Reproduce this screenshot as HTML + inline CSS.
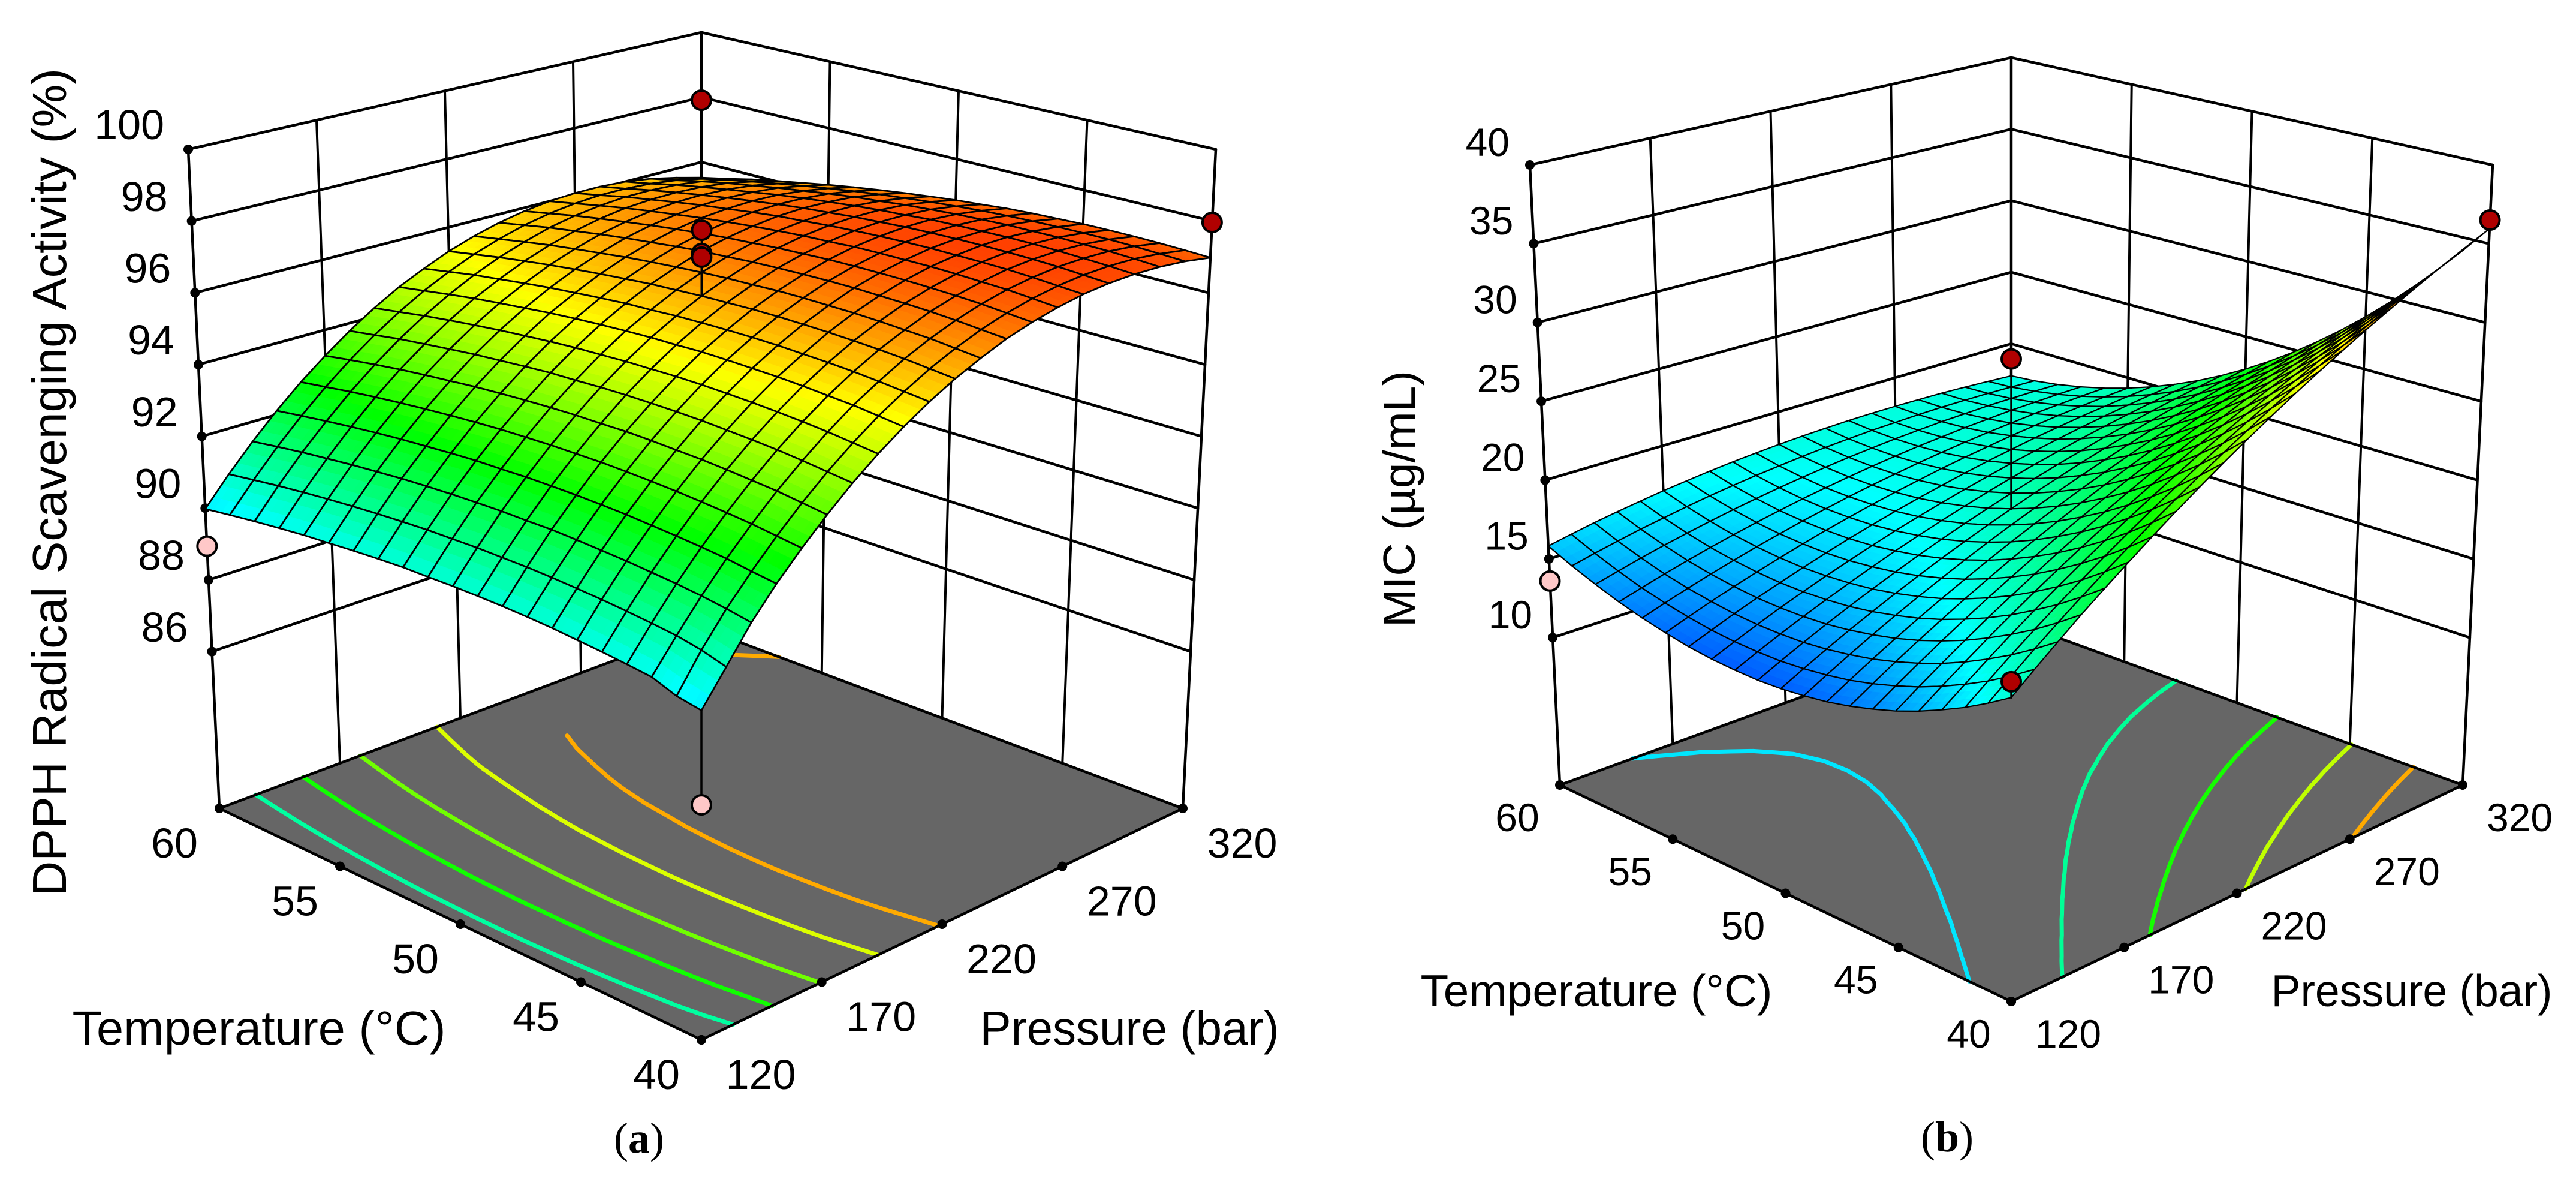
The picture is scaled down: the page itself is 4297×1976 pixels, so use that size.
<!DOCTYPE html>
<html lang="en">
<head>
<meta charset="utf-8">
<title>Response surfaces: DPPH radical scavenging activity and MIC</title>
<style>
html,body{margin:0;padding:0;background:#fff;}
svg{display:block;}
text{font-family:"Liberation Sans",sans-serif;fill:#000;}
.tick{font-size:68px;}
.title{font-size:80px;}
.cap{font-family:"Liberation Serif",serif;font-size:72px;}
</style>
</head>
<body>
<svg id="figure" xmlns="http://www.w3.org/2000/svg" width="4297" height="1976" viewBox="0 0 4297 1976">
  <rect width="4297" height="1976" fill="#fff"/>
  <g id="panelA"></g>
  <g id="panelB"></g>
  <text class="title" text-anchor="middle" textLength="1380" lengthAdjust="spacingAndGlyphs" transform="translate(110,804) rotate(-90)">DPPH Radical Scavenging Activity (%)</text>
  <text class="title" text-anchor="middle" textLength="623" lengthAdjust="spacingAndGlyphs" x="432" y="1742">Temperature (°C)</text>
  <text class="title" text-anchor="middle" textLength="499" lengthAdjust="spacingAndGlyphs" x="1884" y="1742">Pressure (bar)</text>
  <text class="cap" text-anchor="middle" x="1066" y="1922">(<tspan font-weight="bold">a</tspan>)</text>
  <text class="title" style="font-size:75px" text-anchor="middle" textLength="428" lengthAdjust="spacingAndGlyphs" transform="translate(2360,832) rotate(-90)">MIC (µg/mL)</text>
  <text class="title" style="font-size:75px" text-anchor="middle" textLength="587" lengthAdjust="spacingAndGlyphs" x="2663" y="1678">Temperature (°C)</text>
  <text class="title" style="font-size:75px" text-anchor="middle" textLength="469" lengthAdjust="spacingAndGlyphs" x="4023" y="1678">Pressure (bar)</text>
  <text class="cap" text-anchor="middle" x="3248" y="1920">(<tspan font-weight="bold">b</tspan>)</text>
</svg>
<script>
// ---- shared axis values ----
const temperatureTicks = [40, 45, 50, 55, 60];
const pressureTicks = [120, 170, 220, 270, 320];
const temperatureLabels = ["40", "45", "50", "55", "60"];
const pressureLabels = ["120", "170", "220", "270", "320"];

// ---- panel (a): DPPH radical scavenging activity (%) ----
const dpphTicks = [86, 88, 90, 92, 94, 96, 98, 100];
const dpphLabels = ["86", "88", "90", "92", "94", "96", "98", "100"];
const dpphContourLevels = [91.1, 92.4, 93.7, 95, 96.05];
const dpphPointTemperature = [60, 40, 60, 40, 50, 50, 50];
const dpphPointPressure = [320, 320, 120, 120, 220, 220, 220];
const dpphPointValue = [97.91, 97.96, 88.94, 87.58, 98.08, 97.43, 97.33];
// rows: temperature 40..60 in 1 degree steps; columns: pressure 120..320 in 10 bar steps
const dpphSurface = [
[89.97,90.82,91.70,92.45,93.12,93.74,94.32,94.84,95.31,95.73,96.10,96.41,96.69,96.90,97.06,97.18,97.24,97.25,97.21,97.12,96.98],
[90.08,91.00,91.81,92.53,93.20,93.82,94.39,94.91,95.38,95.79,96.16,96.47,96.74,96.95,97.11,97.22,97.28,97.29,97.25,97.15,97.01],
[90.31,91.12,91.90,92.62,93.28,93.90,94.46,94.98,95.45,95.85,96.22,96.53,96.79,97.00,97.16,97.26,97.32,97.32,97.28,97.18,97.03],
[90.38,91.19,91.97,92.68,93.34,93.95,94.52,95.03,95.49,95.90,96.26,96.56,96.83,97.03,97.18,97.29,97.34,97.34,97.29,97.19,97.04],
[90.44,91.25,92.02,92.73,93.39,94.00,94.56,95.07,95.53,95.93,96.29,96.59,96.85,97.05,97.20,97.30,97.35,97.35,97.30,97.19,97.04],
[90.49,91.30,92.07,92.77,93.43,94.04,94.59,95.10,95.56,95.95,96.31,96.61,96.86,97.06,97.21,97.30,97.35,97.35,97.29,97.18,97.03],
[90.54,91.34,92.10,92.81,93.46,94.06,94.62,95.12,95.57,95.97,96.32,96.61,96.87,97.06,97.20,97.30,97.34,97.33,97.28,97.16,97.00],
[90.57,91.37,92.13,92.83,93.48,94.08,94.63,95.13,95.58,95.97,96.32,96.61,96.86,97.05,97.19,97.28,97.32,97.31,97.25,97.13,96.97],
[90.59,91.39,92.15,92.84,93.49,94.09,94.63,95.13,95.58,95.96,96.31,96.60,96.84,97.03,97.17,97.25,97.29,97.28,97.21,97.09,96.93],
[90.60,91.39,92.14,92.84,93.48,94.07,94.62,95.11,95.55,95.94,96.28,96.56,96.81,96.99,97.12,97.21,97.24,97.22,97.16,97.03,96.86],
[90.60,91.39,92.14,92.83,93.47,94.06,94.60,95.09,95.53,95.91,96.25,96.53,96.77,96.95,97.08,97.16,97.19,97.17,97.10,96.97,96.80],
[90.58,91.37,92.12,92.80,93.44,94.03,94.56,95.05,95.49,95.86,96.20,96.48,96.71,96.89,97.02,97.09,97.12,97.10,97.02,96.89,96.72],
[90.57,91.35,92.09,92.78,93.41,93.99,94.53,95.01,95.44,95.82,96.15,96.42,96.66,96.83,96.95,97.03,97.05,97.02,96.95,96.81,96.63],
[90.53,91.31,92.05,92.73,93.36,93.94,94.47,94.95,95.38,95.75,96.08,96.35,96.58,96.75,96.87,96.94,96.96,96.93,96.85,96.71,96.53],
[90.48,91.26,92.00,92.67,93.30,93.88,94.40,94.88,95.31,95.67,96.00,96.27,96.49,96.66,96.78,96.84,96.86,96.83,96.74,96.60,96.42],
[90.42,91.20,91.93,92.61,93.23,93.80,94.33,94.80,95.22,95.59,95.91,96.17,96.40,96.56,96.67,96.74,96.75,96.71,96.63,96.48,96.30],
[90.36,91.13,91.86,92.53,93.15,93.72,94.24,94.71,95.13,95.49,95.81,96.07,96.29,96.45,96.56,96.62,96.63,96.59,96.50,96.35,96.16],
[90.28,91.05,91.77,92.44,93.06,93.63,94.14,94.61,95.03,95.38,95.70,95.96,96.17,96.33,96.44,96.49,96.50,96.46,96.37,96.21,96.02],
[90.19,90.96,91.68,92.34,92.96,93.52,94.04,94.50,94.91,95.27,95.58,95.83,96.05,96.20,96.30,96.36,96.36,96.32,96.22,96.06,95.87],
[90.09,90.85,91.57,92.23,92.84,93.40,93.91,94.37,94.78,95.13,95.44,95.69,95.90,96.05,96.15,96.20,96.20,96.15,96.05,95.89,95.69],
[89.98,90.74,91.45,92.11,92.72,93.27,93.78,94.24,94.65,94.99,95.30,95.55,95.75,95.90,96.00,96.05,96.05,96.00,95.89,95.72,95.52]
];

// ---- panel (b): MIC (ug/mL) ----
const micTicks = [10, 15, 20, 25, 30, 35, 40];
const micLabels = ["10", "15", "20", "25", "30", "35", "40"];
const micContourLevels = [16.7, 20.7, 24.6, 28.5, 32.4];
const micPointTemperature = [40, 40, 60, 50];
const micPointPressure = [320, 120, 120, 220];
const micPointValue = [36.5, 19.2, 13.6, 28.5];
const micSurface = [
[18.28,19.37,20.43,21.48,22.49,23.49,24.47,25.43,26.36,27.28,28.17,29.04,29.90,30.73,31.53,32.33,33.09,33.84,34.57,35.27,35.96],
[17.40,18.44,19.47,20.47,21.45,22.41,23.34,24.27,25.16,26.04,26.89,27.72,28.54,29.33,30.10,30.85,31.57,32.29,32.97,33.64,34.28],
[16.59,17.59,18.58,19.54,20.48,21.40,22.30,23.18,24.04,24.87,25.69,26.49,27.26,28.02,28.74,29.46,30.14,30.82,31.46,32.09,32.69],
[15.88,16.84,17.79,18.71,19.61,20.49,21.35,22.19,23.01,23.80,24.58,25.34,26.07,26.79,27.47,28.15,28.79,29.43,30.03,30.62,31.18],
[15.23,16.16,17.06,17.95,18.80,19.65,20.47,21.27,22.05,22.80,23.54,24.26,24.95,25.63,26.27,26.91,27.52,28.11,28.68,29.22,29.75],
[14.66,15.55,16.41,17.26,18.08,18.88,19.66,20.43,21.17,21.88,22.58,23.26,23.91,24.55,25.16,25.76,26.32,26.88,27.41,27.91,28.40],
[14.19,15.04,15.86,16.67,17.45,18.21,18.95,19.68,20.38,21.05,21.71,22.35,22.96,23.56,24.13,24.69,25.21,25.73,26.22,26.68,27.13],
[13.78,14.59,15.38,16.14,16.88,17.61,18.31,19.00,19.65,20.29,20.91,21.51,22.09,22.64,23.17,23.69,24.18,24.66,25.10,25.53,25.94],
[13.45,14.22,14.97,15.70,16.40,17.08,17.74,18.39,19.01,19.61,20.19,20.75,21.29,21.81,22.30,22.78,23.22,23.66,24.07,24.46,24.83],
[13.22,13.95,14.66,15.35,16.01,16.65,17.27,17.88,18.46,19.02,19.56,20.08,20.58,21.06,21.51,21.95,22.35,22.75,23.12,23.47,23.80],
[13.05,13.74,14.41,15.06,15.68,16.29,16.87,17.44,17.98,18.50,19.00,19.48,19.94,20.38,20.79,21.19,21.56,21.92,22.25,22.56,22.85],
[12.96,13.61,14.24,14.85,15.43,16.00,16.55,17.08,17.58,18.06,18.52,18.96,19.38,19.78,20.15,20.52,20.85,21.17,21.46,21.73,21.98],
[12.97,13.58,14.17,14.74,15.28,15.81,16.32,16.81,17.27,17.71,18.13,18.53,18.91,19.27,19.60,19.93,20.22,20.50,20.75,20.98,21.19],
[13.04,13.61,14.16,14.70,15.20,15.69,16.15,16.60,17.03,17.43,17.81,18.17,18.51,18.84,19.13,19.41,19.67,19.90,20.12,20.31,20.48],
[13.19,13.72,14.24,14.73,15.19,15.64,16.07,16.48,16.86,17.23,17.57,17.89,18.20,18.48,18.73,18.98,19.19,19.39,19.56,19.72,19.85],
[13.44,13.93,14.41,14.86,15.28,15.69,16.08,16.45,16.79,17.12,17.42,17.70,17.97,18.21,18.42,18.63,18.80,18.96,19.09,19.21,19.30],
[13.75,14.20,14.64,15.05,15.44,15.81,16.15,16.49,16.79,17.08,17.34,17.58,17.81,18.01,18.19,18.35,18.48,18.61,18.70,18.78,18.83],
[14.14,14.55,14.95,15.32,15.67,16.00,16.31,16.60,16.87,17.11,17.34,17.55,17.73,17.90,18.03,18.16,18.25,18.34,18.39,18.43,18.44],
[14.63,15.00,15.36,15.69,16.00,16.29,16.56,16.81,17.04,17.24,17.43,17.60,17.74,17.87,17.96,18.05,18.10,18.15,18.16,18.16,18.13],
[15.18,15.52,15.83,16.13,16.39,16.65,16.88,17.09,17.28,17.44,17.59,17.72,17.82,17.91,17.96,18.01,18.03,18.03,18.01,17.96,17.90],
[15.82,16.12,16.40,16.65,16.88,17.10,17.28,17.46,17.61,17.73,17.84,17.93,17.99,18.04,18.06,18.06,18.04,18.01,17.94,17.86,17.76]
];

const SVG_NS = "http://www.w3.org/2000/svg";

function make(parent, tag, name, attrs) {
  const el = document.createElementNS(SVG_NS, tag);
  
  
  for (const k in attrs) el.setAttribute(k, attrs[k]);
  parent.appendChild(el);
  return el;
}

function rainbow(v) {
  const t = Math.max(0, Math.min(1, v));
  const stops = [[0, 0, 255], [0, 255, 255], [0, 255, 0], [255, 255, 0], [255, 0, 0]];
  const s = Math.min(3, Math.floor(t * 4));
  const f = t * 4 - s;
  const c = stops[s].map((c0, i) => Math.round(c0 + (stops[s + 1][i] - c0) * f));
  return "rgb(" + c.join(",") + ")";
}

function drawPanel(cfg) {
  const root = document.getElementById(cfg.id);
  const C = cfg.corners;
  const xT = T => (T - temperatureTicks[0]) / (temperatureTicks[temperatureTicks.length - 1] - temperatureTicks[0]);
  const xP = P => (P - pressureTicks[0]) / (pressureTicks[pressureTicks.length - 1] - pressureTicks[0]);
  const xZ = z => (z - cfg.zFloor) / (cfg.zTop - cfg.zFloor);
  function project(T, P, z) {
    const a = xT(T), b = xP(P), h = xZ(z);
    const w = [(1 - a) * (1 - b), a * (1 - b), (1 - a) * b, a * b];
    const keysF = ["F", "L", "R", "K"], keysT = ["Ft", "Lt", "Rt", "Kt"];
    let x0 = 0, y0 = 0, x1 = 0, y1 = 0;
    for (let i = 0; i < 4; i++) {
      x0 += w[i] * C[keysF[i]][0]; y0 += w[i] * C[keysF[i]][1];
      x1 += w[i] * C[keysT[i]][0]; y1 += w[i] * C[keysT[i]][1];
    }
    return [x0 + (x1 - x0) * h, y0 + (y1 - y0) * h];
  }
  const colorOf = z => rainbow((z - cfg.cMin) / (cfg.cMax - cfg.cMin));
  const line = (parent, name, p, q, w) => make(parent, "line", name, {x1: p[0], y1: p[1], x2: q[0], y2: q[1], stroke: "#000", "stroke-width": w, "stroke-linecap": "round"});
  const Tmin = temperatureTicks[0], Tmax = temperatureTicks[4], Pmin = pressureTicks[0], Pmax = pressureTicks[4];

  // walls
  const walls = make(root, "g", "back-walls-grid", {});
  line(walls, "left-vertical-axis", project(Tmax, Pmin, cfg.zFloor), project(Tmax, Pmin, cfg.zTop), 4.5);
  line(walls, "back-vertical-edge", project(Tmax, Pmax, cfg.zFloor), project(Tmax, Pmax, cfg.zTop), 4.5);
  line(walls, "right-vertical-edge", project(Tmin, Pmax, cfg.zFloor), project(Tmin, Pmax, cfg.zTop), 4.5);
  cfg.zTicks.forEach(z => {
    line(walls, "wall-gridline-horizontal", project(Tmax, Pmin, z), project(Tmax, Pmax, z), 4.5);
    line(walls, "wall-gridline-horizontal", project(Tmax, Pmax, z), project(Tmin, Pmax, z), 4.5);
  });
  pressureTicks.slice(1, 4).forEach(P => line(walls, "wall-gridline-vertical", project(Tmax, P, cfg.zFloor), project(Tmax, P, cfg.zTop), 4));
  temperatureTicks.slice(1, 4).forEach(T => line(walls, "wall-gridline-vertical", project(T, Pmax, cfg.zFloor), project(T, Pmax, cfg.zTop), 4));

  // floor
  const fl = [project(Tmin, Pmin, cfg.zFloor), project(Tmax, Pmin, cfg.zFloor), project(Tmax, Pmax, cfg.zFloor), project(Tmin, Pmax, cfg.zFloor)];
  make(root, "polygon", "floor-plane", {points: fl.map(p => p.join(",")).join(" "), fill: "#666666"});

  // floor contours (marching squares over the surface values)
  const rows = cfg.surface.length, cols = cfg.surface[0].length;
  const rowT = i => Tmin + (Tmax - Tmin) * i / (rows - 1);
  const colP = j => Pmin + (Pmax - Pmin) * j / (cols - 1);
  const contours = make(root, "g", "floor-contours", {});
  cfg.levels.forEach((level, n) => {
    let d = "";
    for (let i = 0; i < rows - 1; i++) for (let j = 0; j < cols - 1; j++) {
      const zz = [cfg.surface[i][j], cfg.surface[i + 1][j], cfg.surface[i + 1][j + 1], cfg.surface[i][j + 1]];
      const tt = [rowT(i), rowT(i + 1), rowT(i + 1), rowT(i)];
      const pp = [colP(j), colP(j), colP(j + 1), colP(j + 1)];
      const hits = [];
      for (let e = 0; e < 4; e++) {
        const m = (e + 1) % 4;
        if ((zz[e] - level) * (zz[m] - level) < 0) {
          const f = (level - zz[e]) / (zz[m] - zz[e]);
          hits.push(project(tt[e] + (tt[m] - tt[e]) * f, pp[e] + (pp[m] - pp[e]) * f, cfg.zFloor));
        }
      }
      for (let k = 0; k + 1 < hits.length; k += 2) {
        d += "M" + hits[k][0].toFixed(1) + " " + hits[k][1].toFixed(1) + "L" + hits[k + 1][0].toFixed(1) + " " + hits[k + 1][1].toFixed(1);
      }
    }
    make(contours, "path", "contour-line", {d: d, fill: "none", stroke: cfg.contourColors[n], "stroke-width": 7, "stroke-linecap": "round"});
  });

  // floor outline over the contours
  make(root, "polygon", "floor-outline", {points: fl.map(p => p.join(",")).join(" "), fill: "none", stroke: "#000", "stroke-width": 4.5, "stroke-linejoin": "round"});

  // tick dots and labels
  const ticks = make(root, "g", "axis-ticks", {});
  const tickDot = p => make(ticks, "circle", "tick-mark", {cx: p[0], cy: p[1], r: 8, fill: "#000"});
  const tickLabel = (name, x, y, anchor, s) => {
    const t = make(ticks, "text", name, {x: x, y: y, "text-anchor": anchor, "class": "tick", style: "font-size:" + cfg.tickFont + "px"});
    t.textContent = s;
  };
  cfg.zTicks.forEach((z, i) => {
    const p = project(Tmax, Pmin, z);
    tickDot(p);
    tickLabel("response-axis-tick-label", p[0] - cfg.zLabelDx, p[1] - cfg.zLabelDy + cfg.tickFont * 0.36, "end", cfg.zLabels[i]);
  });
  temperatureTicks.forEach((T, i) => {
    const p = project(T, Pmin, cfg.zFloor);
    tickDot(p);
    tickLabel("temperature-tick-label", p[0] - cfg.tLabelDx, p[1] + cfg.labelDy + cfg.tickFont * 0.36, "middle", temperatureLabels[i]);
  });
  pressureTicks.forEach((P, i) => {
    const p = project(Tmin, P, cfg.zFloor);
    tickDot(p);
    tickLabel("pressure-tick-label", p[0] + cfg.pLabelDx, p[1] + cfg.labelDy + cfg.tickFont * 0.36, "middle", pressureLabels[i]);
  });

  // bilinear lookup used to anchor point stems on the surface
  function surfaceAt(T, P) {
    const u = (T - Tmin) / (Tmax - Tmin) * (rows - 1), v = (P - Pmin) / (Pmax - Pmin) * (cols - 1);
    const i = Math.min(rows - 2, Math.floor(u)), j = Math.min(cols - 2, Math.floor(v));
    const fu = u - i, fv = v - j, S = cfg.surface;
    return S[i][j] * (1 - fu) * (1 - fv) + S[i + 1][j] * fu * (1 - fv) + S[i][j + 1] * (1 - fu) * fv + S[i + 1][j + 1] * fu * fv;
  }
  function drawPoint(k, group) {
    const T = cfg.ptT[k], P = cfg.ptP[k], v = cfg.ptV[k], s = surfaceAt(T, P), above = v >= s;
    const p = project(T, P, v), q = project(T, P, s);
    line(group, "design-point-stem", p, q, 3.5);
    make(group, "circle", above ? "design-point-above-surface" : "design-point-below-surface", {cx: p[0], cy: p[1], r: 16, fill: above ? "#b00000" : "#ffc8c8", stroke: "#000", "stroke-width": 4});
  }

  // points under the surface
  const under = make(root, "g", "design-points-below", {});
  cfg.ptV.forEach((v, k) => { if (v < surfaceAt(cfg.ptT[k], cfg.ptP[k])) drawPoint(k, under); });

  // surface, painted back to front
  const surf = make(root, "g", "response-surface", {});
  const n = 3;
  for (let i = rows - 2; i >= 0; i--) for (let j = cols - 2; j >= 0; j--) {
    const cell = make(surf, "g", "surface-cell", {});
    const z00 = cfg.surface[i][j], z10 = cfg.surface[i + 1][j], z01 = cfg.surface[i][j + 1], z11 = cfg.surface[i + 1][j + 1];
    const at = (u, v) => {
      const z = z00 * (1 - u) * (1 - v) + z10 * u * (1 - v) + z01 * (1 - u) * v + z11 * u * v;
      return {z: z, p: project(rowT(i) + (rowT(i + 1) - rowT(i)) * u, colP(j) + (colP(j + 1) - colP(j)) * v, z)};
    };
    for (let a = n - 1; a >= 0; a--) for (let b = n - 1; b >= 0; b--) {
      const c = [at(a / n, b / n), at((a + 1) / n, b / n), at((a + 1) / n, (b + 1) / n), at(a / n, (b + 1) / n)];
      const mid = at((a + .5) / n, (b + .5) / n).z;
      const col = colorOf(mid);
      make(cell, "polygon", "surface-facet", {points: c.map(o => o.p[0].toFixed(1) + "," + o.p[1].toFixed(1)).join(" "), fill: col, stroke: col, "stroke-width": 1});
    }
    const o = [at(0, 0), at(1, 0), at(1, 1), at(0, 1)];
    make(cell, "polygon", "surface-mesh-cell", {points: o.map(e => e.p[0].toFixed(1) + "," + e.p[1].toFixed(1)).join(" "), fill: "none", stroke: "#000", "stroke-width": cfg.meshWidth, "stroke-linejoin": "round"});
  }

  // points above the surface
  const over = make(root, "g", "design-points-above", {});
  cfg.ptV.forEach((v, k) => { if (v >= surfaceAt(cfg.ptT[k], cfg.ptP[k])) drawPoint(k, over); });
}

drawPanel({
  id: "panelA",
  corners: {F: [1170, 1734], L: [366, 1348], R: [1973, 1348], K: [1170, 1047], Ft: [1170, 524], Lt: [314, 249], Rt: [2028, 249], Kt: [1170, 54]},
  zFloor: 81.63, zTop: 100, cMin: 87.6, cMax: 98,
  zTicks: dpphTicks, zLabels: dpphLabels, levels: dpphContourLevels,
  contourColors: ["#00ffa0", "#10ff00", "#70ff00", "#dcff00", "#ffaa00"],
  surface: dpphSurface, ptT: dpphPointTemperature, ptP: dpphPointPressure, ptV: dpphPointValue,
  tickFont: 70, zLabelDx: 40, zLabelDy: 42, tLabelDx: 75, pLabelDx: 99, labelDy: 57, meshWidth: 2.8
});
drawPanel({
  id: "panelB",
  corners: {F: [3355, 1670], L: [2602, 1309], R: [4108, 1309], K: [3355, 1035], Ft: [3355, 539], Lt: [2552, 275], Rt: [4158, 275], Kt: [3355, 96]},
  zFloor: 0.65, zTop: 40, cMin: 10.6, cMax: 37,
  zTicks: micTicks, zLabels: micLabels, levels: micContourLevels,
  contourColors: ["#00e6ff", "#00ff96", "#14ff00", "#c0ff00", "#ffaa00"],
  surface: micSurface, ptT: micPointTemperature, ptP: micPointPressure, ptV: micPointValue,
  tickFont: 66, zLabelDx: 34, zLabelDy: 39, tLabelDx: 71, pLabelDx: 95, labelDy: 53, meshWidth: 2.2
});
</script>
</body>
</html>
